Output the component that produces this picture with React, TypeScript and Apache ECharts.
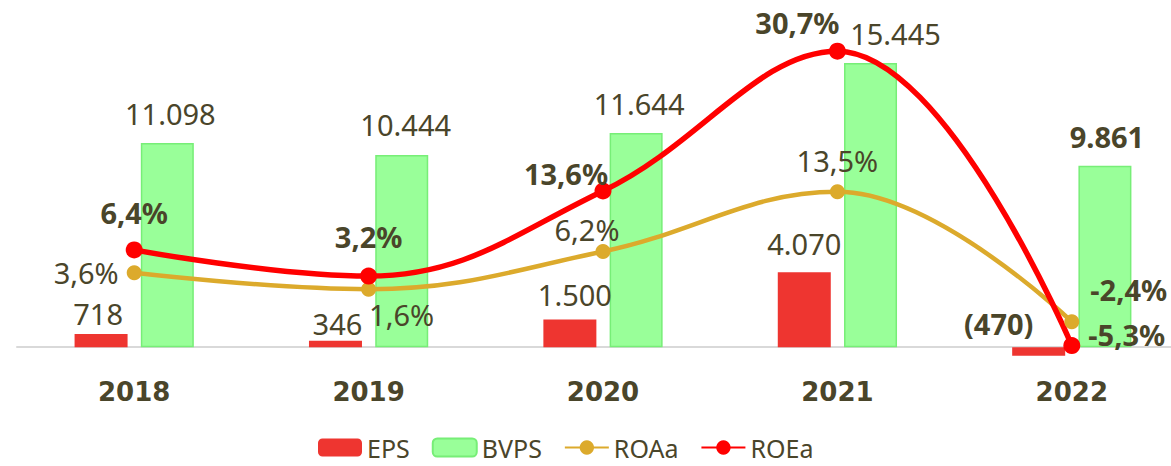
import React, { useEffect, useRef } from "react";
import * as echarts from "echarts";

const years = ["2018", "2019", "2020", "2021", "2022"];
const eps = [718, 346, 1500, 4070, -470];
const bvps = [11098, 10444, 11644, 15445, 9861];
const roaa = [3.6, 1.6, 6.2, 13.5, -2.4];
const roea = [6.4, 3.2, 13.6, 30.7, -5.3];

const TXT = "#4a452a";
const FONT = "'Noto Sans', sans-serif";

const epsLabelText = ["718", "346", "1.500", "4.070", "(470)"];
const bvpsLabelText = ["11.098", "10.444", "11.644", "15.445", "9.861"];
const pct = (v: number) => v.toFixed(1).replace(".", ",") + "%";

export default function App() {
  const ref = useRef<HTMLDivElement>(null);
  useEffect(() => {
    const chart = echarts.init(ref.current!, null, { renderer: "svg" });
    const lbl = { color: TXT, fontFamily: FONT, fontSize: 29 };
    const epsOff = [[-3, -1], [2, 2], [5, -6], [0, -9], [-40, -4]];
    const bvpsOff = [[3, -10], [4, -11], [3, -10], [25, -10], [2, -10]];
    const roeOff: any[] = [
      { position: "top", offset: [0, -9] },
      { position: "top", offset: [0, -12] },
      { position: "top", offset: [-37, 10] },
      { position: "top", offset: [-40, -1] },
      { position: "right", offset: [3, -11] },
    ];
    const roaOff: any[] = [
      { position: "left", offset: [-3, 0] },
      { position: "bottom", offset: [33, -2] },
      { position: "top", offset: [-16, 5] },
      { position: "top", offset: [0, -4] },
      { position: "right", offset: [6, -32] },
    ];
    chart.setOption({
      animation: false,
      grid: {
        left: 17,
        width: 1172,
        top: 16,
        height: 368,
        containLabel: false,
        outerBoundsMode: "none",
      },
      legend: {
        bottom: 1,
        left: 313,
        itemWidth: 44,
        itemHeight: 18,
        itemGap: 22,
        textStyle: { color: TXT, fontFamily: FONT, fontSize: 25 },
        data: ["EPS", "BVPS", "ROAa", "ROEa"],
      },
      xAxis: {
        type: "category",
        data: years,
        axisLine: { lineStyle: { color: "#d9d9d9", width: 2 } },
        axisTick: { show: false },
        axisLabel: {
          color: TXT,
          fontFamily: "'DejaVu Sans', sans-serif",
          fontWeight: "bold",
          fontSize: 26,
          margin: -5,
        },
      },
      yAxis: [
        { type: "value", min: -2000, max: 18000, show: false, splitLine: { show: false } },
        { type: "value", min: -10, max: 35, show: false, splitLine: { show: false } },
      ],
      series: [
        {
          name: "EPS",
          type: "bar",
          barWidth: 53,
          barGap: "25%",
          itemStyle: { color: "#ee3530" },
          data: eps.map((v, i) => ({
            value: v,
            label: {
              show: true,
              position: "top",
              offset: epsOff[i],
              formatter: epsLabelText[i],
              ...lbl,
              fontWeight: i === 4 ? "bold" : "normal",
            },
          })),
        },
        {
          name: "BVPS",
          type: "bar",
          barWidth: 53,
          barGap: "25%",
          itemStyle: { color: "#99ff99", borderColor: "#77ee77", borderWidth: 1.5 },
          data: bvps.map((v, i) => ({
            value: v,
            label: {
              show: true,
              position: "top",
              offset: bvpsOff[i],
              formatter: bvpsLabelText[i],
              ...lbl,
              fontWeight: i === 4 ? "bold" : "normal",
            },
          })),
        },
        {
          name: "ROAa",
          type: "line",
          yAxisIndex: 1,
          smooth: 0.4,
          symbol: "circle",
          symbolSize: 15,
          lineStyle: { color: "#dcaa2c", width: 4.5 },
          itemStyle: { color: "#dcaa2c" },
          data: roaa.map((v, i) => ({
            value: v,
            label: {
              show: true,
              ...roaOff[i],
              formatter: pct(v),
              ...lbl,
              fontWeight: i === 4 ? "bold" : "normal",
            },
          })),
        },
        {
          name: "ROEa",
          type: "line",
          yAxisIndex: 1,
          smooth: 0.4,
          symbol: "circle",
          symbolSize: 17,
          lineStyle: { color: "#ff0000", width: 5.5 },
          itemStyle: { color: "#ff0000" },
          data: roea.map((v, i) => ({
            value: v,
            label: {
              show: true,
              ...roeOff[i],
              formatter: pct(v),
              ...lbl,
              fontWeight: "bold",
            },
          })),
        },
      ],
    });
    return () => chart.dispose();
  }, []);
  return (
    <div
      ref={ref}
      style={{ position: "absolute", left: 0, top: 0, width: 1171, height: 466, background: "#fff" }}
    />
  );
}
